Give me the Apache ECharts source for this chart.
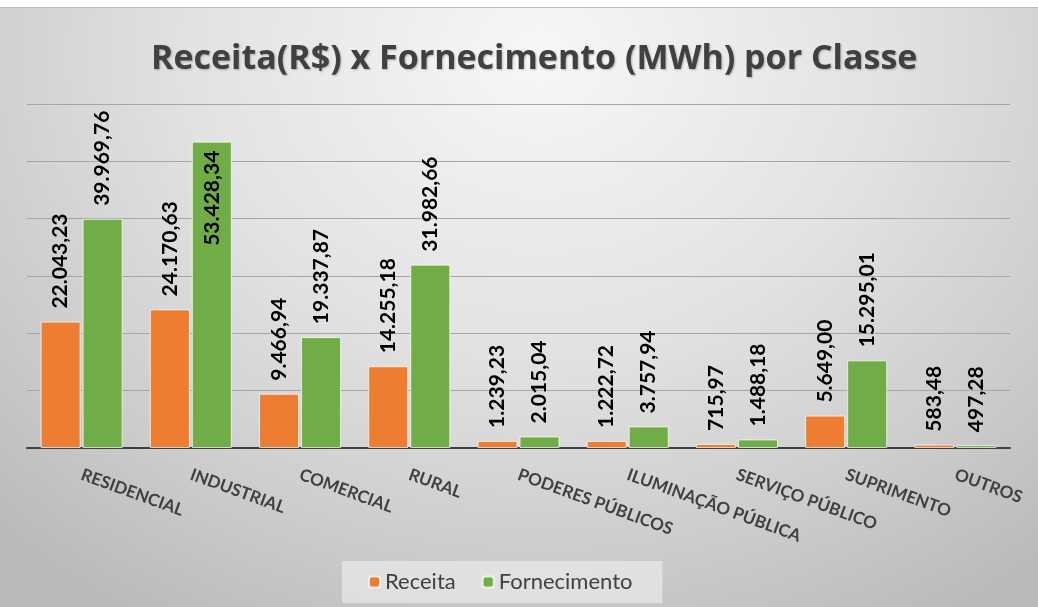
<!DOCTYPE html>
<html>
<head>
<meta charset="utf-8">
<script src="https://cdn.jsdelivr.net/npm/echarts@6/dist/echarts.min.js"></script>
<style>
    html, body { margin: 0; padding: 0; background: #fff; }
    #wrap { width: 1038px; height: 607px; padding-top: 7px; box-sizing: border-box; background: #fff; }
    #chart {
        width: 1038px; height: 600px;
        border-top: 1px solid #bdbdbd;
        box-sizing: border-box;
        background: radial-gradient(ellipse 75% 110% at 52% 8%, #f7f7f7 0%, #e2e2e2 45%, #cdcdcd 75%, #bababa 100%);
    }
</style>
</head>
<body>
<div id="wrap"><div id="chart"></div></div>
<script>
const categories = ['RESIDENCIAL', 'INDUSTRIAL', 'COMERCIAL', 'RURAL', 'PODERES PÚBLICOS',
    'ILUMINAÇÃO PÚBLICA', 'SERVIÇO PÚBLICO', 'SUPRIMENTO', 'OUTROS'];
const receita = [22043.23, 24170.63, 9466.94, 14255.18, 1239.23, 1222.72, 715.97, 5649.00, 583.48];
const fornecimento = [39969.76, 53428.34, 19337.87, 31982.66, 2015.04, 3757.94, 1488.18, 15295.01, 497.28];

const FONT = 'Lato, "Open Sans", sans-serif';

// formato brasileiro: 22.043,23
function fmtBR(v) {
    const parts = v.toFixed(2).split('.');
    parts[0] = parts[0].replace(/\B(?=(\d{3})+(?!\d))/g, '.');
    return parts.join(',');
}

const valueLabel = {
    show: true,
    position: 'top',
    rotate: 90,
    align: 'left',
    verticalAlign: 'middle',
    distance: 13,
    color: '#000',
    fontFamily: FONT,
    fontSize: 21,
    fontWeight: 'bold',
    formatter: p => fmtBR(p.value)
};

// a barra INDUSTRIAL de fornecimento tem o rótulo por dentro
const fornData = fornecimento.map((v, i) => i === 1 ? {
    value: v,
    label: { position: 'insideTop', align: 'right', distance: 9 }
} : v);

const myChart = echarts.init(document.getElementById('chart'));
myChart.setOption({
    backgroundColor: 'transparent',
    title: {
        text: 'Receita(R$) x Fornecimento (MWh) por Classe',
        left: 146,
        top: 29,
        textStyle: {
            color: '#404040',
            fontFamily: '"Open Sans", Lato, sans-serif',
            fontSize: 34,
            fontWeight: 'bold',
            textShadowColor: 'rgba(0,0,0,0.25)',
            textShadowBlur: 2,
            textShadowOffsetX: 1,
            textShadowOffsetY: 1
        }
    },
    legend: {
        bottom: 4,
        left: 342,
        itemWidth: 11,
        itemHeight: 11,
        itemGap: 26,
        padding: [10, 30, 10, 26],
        backgroundColor: 'rgba(240,240,240,0.6)',
        textStyle: { color: '#404040', fontFamily: FONT, fontSize: 22 },
        data: ['Receita', 'Fornecimento']
    },
    grid: {
        left: 27,
        right: 28,
        top: 96,
        bottom: 159
    },
    xAxis: {
        type: 'category',
        data: categories,
        axisLine: { lineStyle: { color: '#404040', width: 2 } },
        axisTick: { show: false },
        axisLabel: {
            rotate: -20,
            margin: 26,
            interval: 0,
            color: '#404040',
            fontFamily: FONT,
            fontSize: 17,
            fontWeight: 'bold'
        }
    },
    yAxis: {
        type: 'value',
        min: 0,
        max: 60000,
        interval: 10000,
        axisLabel: { show: false },
        axisLine: { show: false },
        axisTick: { show: false },
        splitLine: { lineStyle: { color: '#a6a6a6', width: 1 } }
    },
    series: [
        {
            name: 'Receita',
            type: 'bar',
            data: receita,
            barWidth: 40,
            barGap: '5%',
            itemStyle: { color: '#ED7D31', borderColor: 'rgba(255,255,255,0.7)', borderWidth: 1 },
            label: valueLabel
        },
        {
            name: 'Fornecimento',
            type: 'bar',
            data: fornData,
            barWidth: 40,
            itemStyle: { color: '#70AD47', borderColor: 'rgba(255,255,255,0.7)', borderWidth: 1 },
            label: valueLabel
        }
    ]
});
</script>
</body>
</html>
